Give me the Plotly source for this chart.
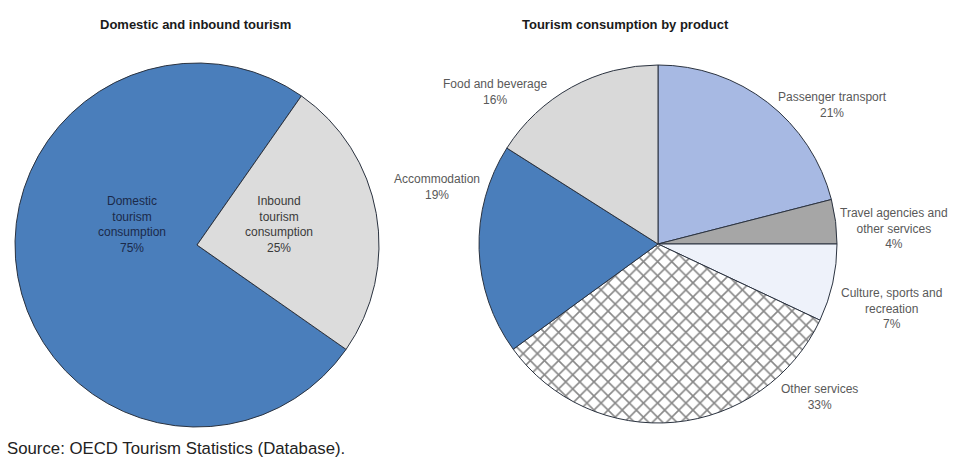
import plotly.graph_objects as go

# ---- data ----
left_labels = ["Domestic tourism consumption", "Inbound tourism consumption"]
left_values = [75, 25]
right_labels = ["Passenger transport", "Travel agencies and other services",
                "Culture, sports and recreation", "Other services",
                "Accommodation", "Food and beverage"]
right_values = [21, 4, 7, 33, 19, 16]
left_title = "Domestic and inbound tourism"
right_title = "Tourism consumption by product"
source_text = "Source: OECD Tourism Statistics (Database)."

# ---- styles ----
W, H = 953, 465
FONT = "Liberation Sans, Arial, sans-serif"
left_colors = ["#4A7EBB", "#DCDCDC"]
right_colors = ["#A7B9E3", "#A6A6A6", "#EEF2FA", "#FFFFFF", "#4A7EBB", "#D9D9D9"]
right_shapes = ["", "", "", "x", "", ""]

def px(x, y):
    return x / W, 1 - y / H

fig = go.Figure()
fig.add_trace(go.Pie(
    labels=left_labels, values=left_values, sort=False, direction="clockwise",
    rotation=125, textinfo="none", hoverinfo="label+percent",
    marker=dict(colors=left_colors, line=dict(color="#2b3340", width=1)),
    domain=dict(x=[15 / W, 379 / W], y=[1 - 427 / H, 1 - 63 / H]),
    showlegend=False,
))
fig.add_trace(go.Pie(
    labels=right_labels, values=right_values, sort=False, direction="clockwise",
    rotation=0, textinfo="none", hoverinfo="label+percent",
    marker=dict(colors=right_colors, line=dict(color="#2b3340", width=1),
                pattern=dict(shape=right_shapes, fgcolor="#111111", bgcolor="#FFFFFF",
                             size=10, solidity=0.3, fillmode="overlay")),
    domain=dict(x=[479 / W, 837 / W], y=[1 - 423 / H, 1 - 65 / H]),
    showlegend=False,
))

annotations = []

def ann(text, x, y, size=12, color="#595959", bold=False, family=FONT, xanchor="center"):
    ax, ay = px(x, y)
    annotations.append(dict(text=f"<b>{text}</b>" if bold else text, x=ax, y=ay,
                            xref="paper", yref="paper", showarrow=False,
                            xanchor=xanchor, yanchor="middle",
                            font=dict(family=family, size=size, color=color)))

ann(left_title, 195, 25, size=13, color="#1a1a1a", bold=True)
ann(right_title, 625, 25, size=13, color="#1a1a1a", bold=True)

# left labels (inside)
dom = left_labels[0].split(" ")
ann(f"{dom[0]}<br>{dom[1]}<br>{dom[2]}<br>{left_values[0]}%", 132, 224, color="#1B2A4A")
inb = left_labels[1].split(" ")
ann(f"{inb[0]}<br>{inb[1]}<br>{inb[2]}<br>{left_values[1]}%", 279, 224, color="#3a3a3a")

# right labels (outside)
right_pos = [(832, 105), (894, 229), (891, 308), (819, 397), (437, 187), (495, 92)]
right_text = [
    right_labels[0],
    "Travel agencies and<br>other services",
    "Culture, sports and<br>recreation",
    right_labels[3],
    right_labels[4],
    right_labels[5],
]
for (x, y), t, v in zip(right_pos, right_text, right_values):
    ann(f"{t}<br>{v}%", x, y)

ann(source_text, 5, 448, size=16.8, color="#222222", xanchor="left")

fig.update_layout(
    width=W, height=H, margin=dict(l=0, r=0, t=0, b=0),
    paper_bgcolor="white", plot_bgcolor="white",
    annotations=annotations,
)
fig.write_html("out.html", config={"displayModeBar": False},
               post_script="document.body.style.margin='0';")
